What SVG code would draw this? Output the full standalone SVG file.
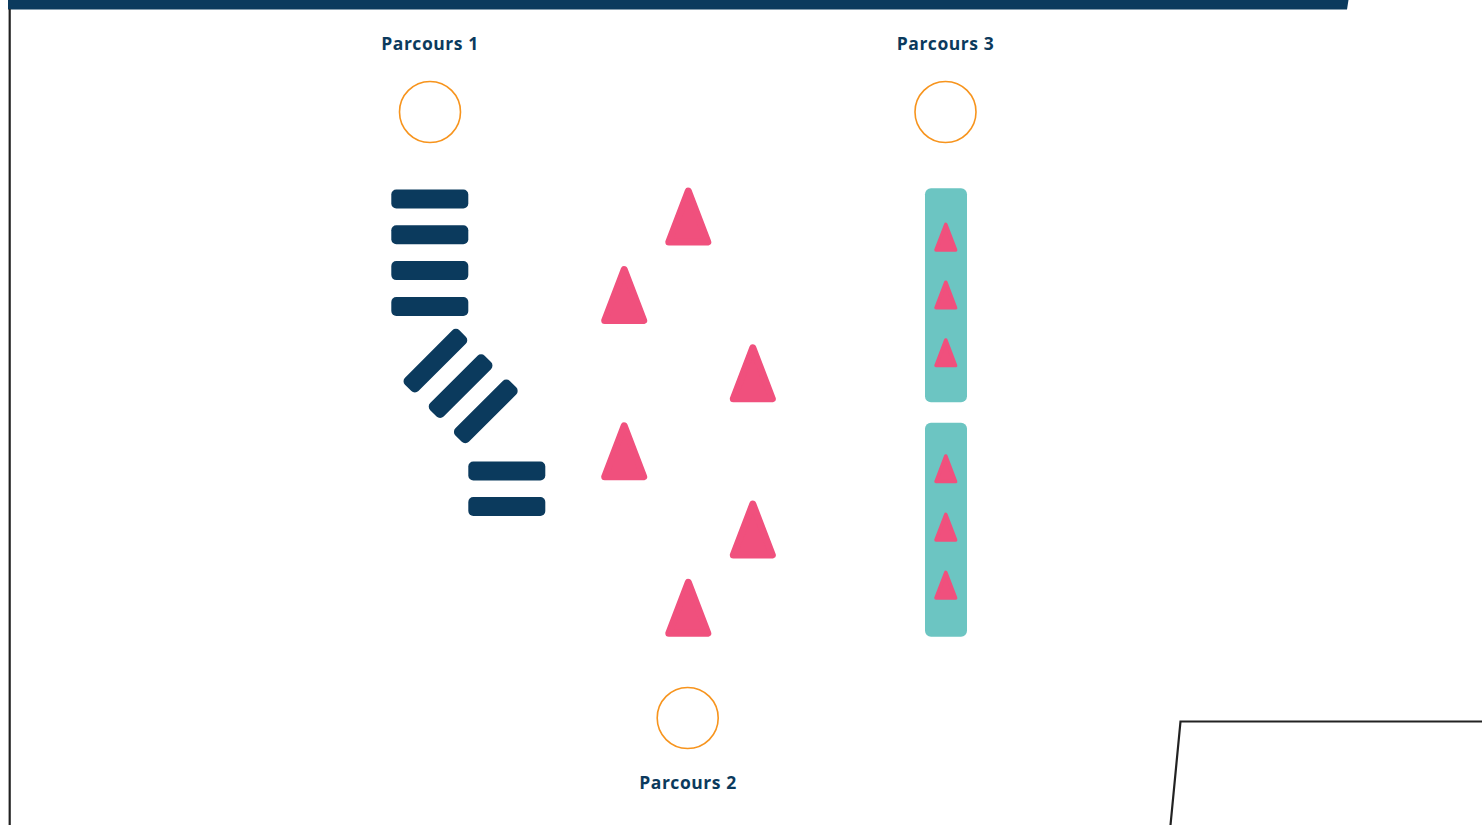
<svg xmlns="http://www.w3.org/2000/svg" width="1482" height="825" viewBox="0 0 1482 825">
<defs>
<style>
.lbl{font-family:"Open Sans","Liberation Sans",sans-serif;font-weight:700;font-size:17.5px;letter-spacing:0.55px;fill:#0b3a5d;text-anchor:middle}
.bar{fill:#0b3a5d}
.cone{fill:#f0507d;stroke:#f0507d;stroke-linejoin:round}
.ring{fill:none;stroke:#f7941d;stroke-width:1.6}
.mat{fill:#6cc5c2}
.frame{fill:none;stroke:#222;stroke-width:2.2}
</style>
<polygon id="bigcone" class="cone" stroke-width="7" points="0,-25.5 19.5,25.5 -19.5,25.5"/>
<polygon id="smallcone" class="cone" stroke-width="3.5" points="0,-12.8 9.8,12.8 -9.8,12.8"/>
<rect id="hbar" class="bar" x="-38.5" y="-9.5" width="77" height="19" rx="5"/>
</defs>
<g id="frame">
<polygon points="8,0 1348.5,0 1347,9.5 8,9.5" fill="#0b3a5d"/>
<line class="frame" x1="9.7" y1="9" x2="9.7" y2="825"/>
<polyline class="frame" points="1170.5,825 1180.5,721.5 1482,721.5"/>
</g>
<g id="parcours1">
<text class="lbl" x="430" y="50">Parcours 1</text>
<circle class="ring" cx="430" cy="112" r="30.5"/>
<use href="#hbar" x="429.8" y="199"/>
<use href="#hbar" x="429.8" y="234.8"/>
<use href="#hbar" x="429.8" y="270.6"/>
<use href="#hbar" x="429.8" y="306.5"/>
<use href="#hbar" transform="translate(435.4,360.7) rotate(-45)"/>
<use href="#hbar" transform="translate(460.6,386.1) rotate(-45)"/>
<use href="#hbar" transform="translate(485.8,411.4) rotate(-45)"/>
<use href="#hbar" x="506.8" y="471"/>
<use href="#hbar" x="506.8" y="506.5"/>
</g>
<g id="parcours2">
<use href="#bigcone" x="688.3" y="216.5"/>
<use href="#bigcone" x="624.2" y="295"/>
<use href="#bigcone" x="752.8" y="373.3"/>
<use href="#bigcone" x="624.2" y="451.3"/>
<use href="#bigcone" x="752.8" y="529.5"/>
<use href="#bigcone" x="688.3" y="607.8"/>
<circle class="ring" cx="687.7" cy="718" r="30.5"/>
<text class="lbl" x="688" y="789">Parcours 2</text>
</g>
<g id="parcours3">
<text class="lbl" x="945.5" y="50">Parcours 3</text>
<circle class="ring" cx="945.5" cy="112" r="30.5"/>
<rect class="mat" x="925" y="188.3" width="42" height="214" rx="6"/>
<rect class="mat" x="925" y="422.7" width="42" height="214" rx="6"/>
<use href="#smallcone" x="945.8" y="237.2"/>
<use href="#smallcone" x="945.8" y="295"/>
<use href="#smallcone" x="945.8" y="352.8"/>
<use href="#smallcone" x="945.8" y="468.8"/>
<use href="#smallcone" x="945.8" y="527.2"/>
<use href="#smallcone" x="945.8" y="585.2"/>
</g>
</svg>
